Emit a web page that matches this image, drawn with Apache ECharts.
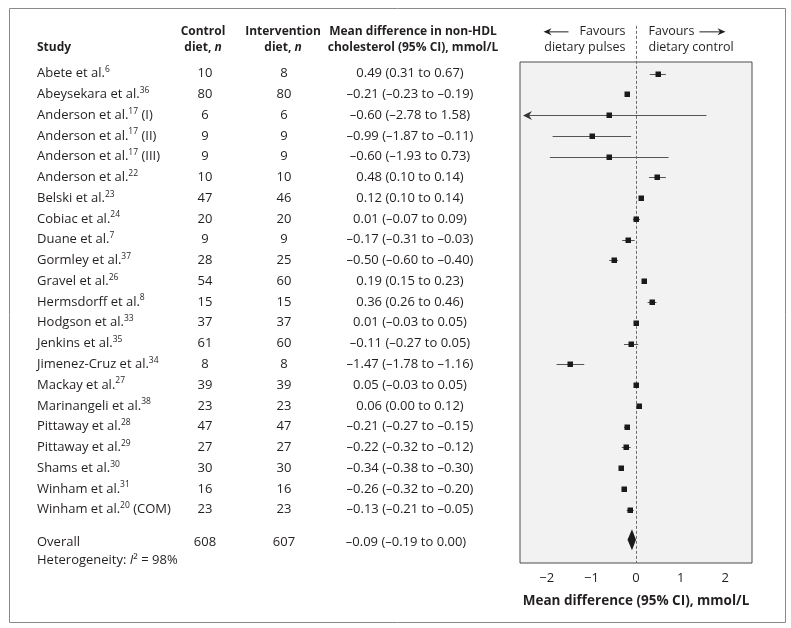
<!DOCTYPE html>
<html><head><meta charset="utf-8">
<script src="https://cdn.jsdelivr.net/npm/echarts@6/dist/echarts.min.js"></script>
<style>html,body{margin:0;padding:0;background:#fff}#c{width:791px;height:628px}</style>
</head><body><div id="c"></div>
<script>
// ---------- data ----------
const studyNames = ['Abete et al.','Abeysekara et al.','Anderson et al.','Anderson et al.','Anderson et al.','Anderson et al.','Belski et al.','Cobiac et al.','Duane et al.','Gormley et al.','Gravel et al.','Hermsdorff et al.','Hodgson et al.','Jenkins et al.','Jimenez-Cruz et al.','Mackay et al.','Marinangeli et al.','Pittaway et al.','Pittaway et al.','Shams et al.','Winham et al.','Winham et al.'];
const studyRefs = ['6','36','17','17','17','22','23','24','7','37','26','8','33','35','34','27','38','28','29','30','31','20'];
const studySuffix = ['','',' (I)',' (II)',' (III)','','','','','','','','','','','','','','','','',' (COM)'];
const controlN = [10,80,6,9,9,10,47,20,9,28,54,15,37,61,8,39,23,47,27,30,16,23];
const interventionN = [8,80,6,9,9,10,46,20,9,25,60,15,37,60,8,39,23,47,27,30,16,23];
const ciLabels = ['0.49 (0.31 to 0.67)','–0.21 (–0.23 to –0.19)','–0.60 (–2.78 to 1.58)','–0.99 (–1.87 to –0.11)','–0.60 (–1.93 to 0.73)','0.48 (0.10 to 0.14)','0.12 (0.10 to 0.14)','0.01 (–0.07 to 0.09)','–0.17 (–0.31 to –0.03)','–0.50 (–0.60 to –0.40)','0.19 (0.15 to 0.23)','0.36 (0.26 to 0.46)','0.01 (–0.03 to 0.05)','–0.11 (–0.27 to 0.05)','–1.47 (–1.78 to –1.16)','0.05 (–0.03 to 0.05)','0.06 (0.00 to 0.12)','–0.21 (–0.27 to –0.15)','–0.22 (–0.32 to –0.12)','–0.34 (–0.38 to –0.30)','–0.26 (–0.32 to –0.20)','–0.13 (–0.21 to –0.05)'];
// plotted values (as drawn in the figure)
const estimates = [0.49,-0.21,-0.60,-0.99,-0.60,0.48,0.12,0.01,-0.17,-0.50,0.19,0.36,0.01,-0.11,-1.47,0.01,0.06,-0.21,-0.22,-0.34,-0.26,-0.13];
const ciLow = [0.31,-0.23,-2.78,-1.87,-1.93,0.29,0.10,-0.07,-0.31,-0.60,0.15,0.26,-0.03,-0.27,-1.78,-0.03,0.00,-0.27,-0.32,-0.38,-0.32,-0.21];
const ciHigh = [0.67,-0.19,1.58,-0.11,0.73,0.67,0.14,0.09,-0.03,-0.40,0.23,0.46,0.05,0.05,-1.16,0.05,0.12,-0.15,-0.12,-0.30,-0.20,-0.05];
const overallN = [608, 607];
const overallValues = [-0.09, -0.19, 0.00];
const overallLabel = '–0.09 (–0.19 to 0.00)';
const heterogeneityI2 = '98%';
const xTicks = [-2,-1,0,1,2];

// ---------- layout ----------
const FONT = '"Open Sans", "DejaVu Sans", sans-serif';
const TXT = '#231f20';
const FS = 13;
const HFS = 12;
const X_MIN = -2.6, X_MAX = 2.6;
const Y_MIN = -0.56, Y_MAX = 23.57;
const OVERALL_ROW = 22.55, HET_ROW = 23.45;
const HEADER_TOP_ROW = -2.3;
const COL_STUDY = 37, COL_CTRL = 205, COL_INT = 284, COL_CI = 410;

const chart = echarts.init(document.getElementById('c'), null, {renderer:'canvas'});

const rich = {
  sup: {fontSize: 8.5, lineHeight: 10, verticalAlign: 'top', fontFamily: FONT, fill: TXT, color: TXT},
  i: {fontStyle: 'italic', fontSize: FS, fontFamily: FONT, color: TXT},
  bi: {fontStyle: 'italic', fontWeight: 'bold', fontSize: HFS, fontFamily: FONT, color: TXT}
};
function txt(x, y, text, align, extra) {
  return {type: 'text', x: x, y: y, style: Object.assign({
    text: text, align: align, verticalAlign: 'middle', fontSize: FS, fontFamily: FONT,
    fill: TXT, lineHeight: 17, rich: rich
  }, extra || {})};
}

const studyData = estimates.map((e, i) => [e, i, ciLow[i], ciHigh[i]]);

const option = {
  animation: false,
  backgroundColor: '#fff',
  grid: {left: 520, top: 62, width: 232, height: 501, show: true, backgroundColor: '#f2f2f2', borderColor: '#4d4d4d', borderWidth: 1},
  xAxis: {
    type: 'value', min: X_MIN, max: X_MAX,
    splitLine: {show: false}, axisLine: {show: false}, axisTick: {show: false},
    axisLabel: {customValues: xTicks, formatter: v => v < 0 ? '\u2212' + Math.abs(v) : String(v), fontSize: 13, color: TXT, fontFamily: FONT, margin: 9},
    name: 'Mean difference (95% CI), mmol/L', nameLocation: 'middle', nameGap: 31,
    nameTextStyle: {fontWeight: 'bold', fontSize: 13.5, color: TXT, fontFamily: FONT}
  },
  yAxis: {type: 'value', inverse: true, min: Y_MIN, max: Y_MAX, show: false},
  graphic: [{type: 'rect', left: 7, top: 6, shape: {width: 776, height: 614}, style: {fill: null, stroke: '#8a8a8a', lineWidth: 1}, silent: true, z: -1}],
  series: [
    { // zero reference line + favours captions
      type: 'custom', clip: false, z: 1,
      data: [[0, HEADER_TOP_ROW, Y_MAX]],
      renderItem: function (params, api) {
        const top = api.coord([0, api.value(1)]);
        const bot = api.coord([0, api.value(2)]);
        const x0 = Math.round(top[0]) + 0.5;
        const y1 = top[1] + 6, y2 = top[1] + 22;
        const arrowL = [x0 - 93, x0 - 68], arrowR = [x0 + 63, x0 + 89];
        const F = {fontSize: 12.5};
        return {type: 'group', children: [
          {type: 'line', shape: {x1: x0, y1: top[1], x2: x0, y2: bot[1]}, style: {stroke: '#6e6e6e', lineWidth: 1, lineDash: [3, 2]}},
          txt(x0 - 11, y1, 'Favours', 'right', F),
          txt(x0 - 11, y2, 'dietary pulses', 'right', F),
          txt(x0 + 12, y1, 'Favours', 'left', F),
          txt(x0 + 12, y2, 'dietary control', 'left', F),
          {type: 'line', shape: {x1: arrowL[0] + 3, y1: y1, x2: arrowL[1], y2: y1}, style: {stroke: TXT, lineWidth: 1}},
          {type: 'polygon', shape: {points: [[arrowL[0], y1], [arrowL[0] + 8, y1 - 3.5], [arrowL[0] + 5.5, y1], [arrowL[0] + 8, y1 + 3.5]]}, style: {fill: TXT}},
          {type: 'line', shape: {x1: arrowR[0], y1: y1, x2: arrowR[1] - 3, y2: y1}, style: {stroke: TXT, lineWidth: 1}},
          {type: 'polygon', shape: {points: [[arrowR[1], y1], [arrowR[1] - 8, y1 - 3.5], [arrowR[1] - 5.5, y1], [arrowR[1] - 8, y1 + 3.5]]}, style: {fill: TXT}}
        ]};
      }
    },
    { // study estimates
      type: 'custom', z: 3, clip: false,
      data: studyData,
      renderItem: function (params, api) {
        const est = api.value(0), row = api.value(1), lo = api.value(2), hi = api.value(3);
        const p0 = api.coord([Math.max(lo, X_MIN), row]);
        const p1 = api.coord([Math.min(hi, X_MAX), row]);
        const pc = api.coord([est, row]);
        const y = Math.round(pc[1]) + 0.5;
        const ch = [];
        if (lo < X_MIN) {
          const tx = p0[0] + 3;
          ch.push({type: 'line', shape: {x1: tx + 6, y1: y, x2: p1[0], y2: y}, style: {stroke: '#555', lineWidth: 1}});
          ch.push({type: 'polygon', shape: {points: [[tx, y], [tx + 9, y - 4.5], [tx + 6, y], [tx + 9, y + 4.5]]}, style: {fill: '#333'}});
        } else {
          ch.push({type: 'line', shape: {x1: p0[0], y1: y, x2: p1[0], y2: y}, style: {stroke: '#555', lineWidth: 1}});
        }
        ch.push({type: 'rect', shape: {x: Math.round(pc[0]) - 2.5, y: y - 3, width: 5.5, height: 5.5}, style: {fill: '#1a1a1a'}});
        return {type: 'group', children: ch};
      }
    },
    { // overall diamond
      type: 'custom', z: 3,
      data: [[overallValues[0], OVERALL_ROW - 0.1, overallValues[1], overallValues[2]]],
      renderItem: function (params, api) {
        const row = api.value(1);
        const pe = api.coord([api.value(0), row]);
        const pl = api.coord([api.value(2), row]);
        const ph = api.coord([api.value(3), row]);
        const h = 10.5;
        return {type: 'polygon', shape: {points: [[pl[0], pe[1]], [pe[0], pe[1] - h], [ph[0], pe[1]], [pe[0], pe[1] + h]]}, style: {fill: '#1a1a1a'}};
      }
    },
    { // table text
      type: 'custom', clip: false, z: 2,
      data: studyNames.map((n, i) => [0, i]),
      renderItem: function (params, api) {
        const i = params.dataIndex;
        const y = api.coord([0, api.value(1)])[1];
        return {type: 'group', children: [
          txt(COL_STUDY, y, studyNames[i] + '{sup|' + studyRefs[i] + '}' + studySuffix[i], 'left'),
          txt(COL_CTRL, y, String(controlN[i]), 'center'),
          txt(COL_INT, y, String(interventionN[i]), 'center'),
          txt(COL_CI, y, ciLabels[i], 'center')
        ]};
      }
    },
    { // overall text + headers
      type: 'custom', clip: false, z: 2,
      data: [[0, OVERALL_ROW, HET_ROW, HEADER_TOP_ROW]],
      renderItem: function (params, api) {
        const y = api.coord([0, api.value(1)])[1];
        const yh = api.coord([0, api.value(2)])[1];
        const yt = api.coord([0, api.value(3)])[1];
        const h1 = yt + 6, h2 = yt + 22;
        const B = {fontWeight: 'bold', fontSize: HFS};
        return {type: 'group', children: [
          txt(COL_STUDY, y, 'Overall', 'left'),
          txt(COL_CTRL, y, String(overallN[0]), 'center'),
          txt(COL_INT, y, String(overallN[1]), 'center'),
          txt(COL_CI - 4, y, overallLabel, 'center'),
          txt(COL_STUDY, yh, 'Heterogeneity: {i|I}\u00b2 = ' + heterogeneityI2, 'left'),
          txt(COL_STUDY, h2, 'Study', 'left', B),
          txt(COL_CTRL - 2, h1, 'Control', 'center', B),
          txt(COL_CTRL - 2, h2, 'diet, {bi|n}', 'center', B),
          txt(COL_INT - 1, h1, 'Intervention', 'center', B),
          txt(COL_INT - 1, h2, 'diet, {bi|n}', 'center', B),
          txt(COL_CI + 3, h1, 'Mean difference in non-HDL', 'center', B),
          txt(COL_CI + 3, h2, 'cholesterol (95% CI), mmol/L', 'center', B)
        ]};
      }
    }
  ]
};
chart.setOption(option);
</script>
</body></html>
